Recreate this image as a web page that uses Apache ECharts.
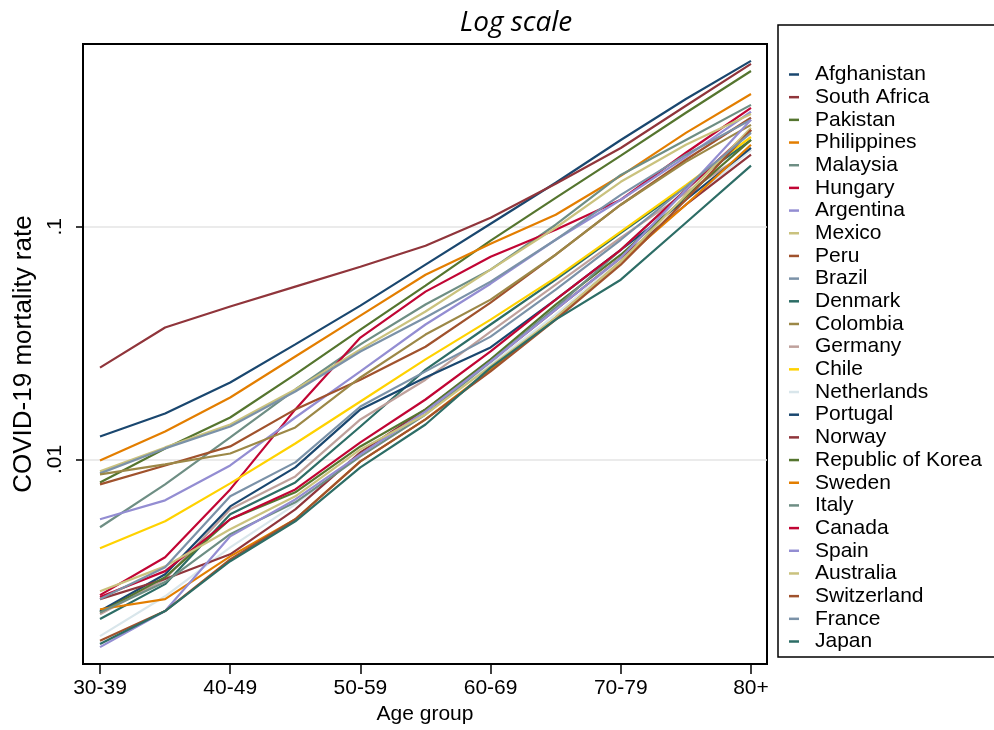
<!DOCTYPE html>
<html>
<head>
<meta charset="utf-8">
<script src="https://cdn.jsdelivr.net/npm/echarts@6/dist/echarts.min.js"></script>
<style>
  html, body { margin: 0; padding: 0; background: #fff; }
  #chart { width: 994px; height: 730px; }
</style>
</head>
<body>
<div id="chart"></div>
<script>
// Age groups on the x axis; each line also has a point halfway between groups
const ageGroups = ['30-39', '40-49', '50-59', '60-69', '70-79', '80+'];
const ageTicks = [0, 1, 2, 3, 4, 5];
const agePoints = [0, 0.5, 1, 1.5, 2, 2.5, 3, 3.5, 4, 4.5, 5];

// Y axis tick values and their labels
const rateTicks = [0.01, 0.1];
const rateTickLabels = ['.01', '.1'];

// COVID-19 mortality rate by age point, one array per country
const afghanistan = [0.01255, 0.01575, 0.0214, 0.0312, 0.0458, 0.0687, 0.103, 0.1545, 0.236, 0.354, 0.516];
const southAfrica = [0.0248, 0.0369, 0.0454, 0.0553, 0.0673, 0.0829, 0.1093, 0.153, 0.218, 0.331, 0.501];
const pakistan = [0.00796, 0.01115, 0.01514, 0.0232, 0.0361, 0.0558, 0.0871, 0.133, 0.202, 0.309, 0.467];
const philippines = [0.0099, 0.01319, 0.01845, 0.0277, 0.0415, 0.0622, 0.0845, 0.1126, 0.1655, 0.253, 0.372];
const malaysia = [0.00511, 0.00781, 0.01243, 0.01997, 0.0312, 0.0463, 0.0654, 0.102, 0.167, 0.236, 0.334];
const hungary = [0.00261, 0.0038, 0.00743, 0.0164, 0.0334, 0.0526, 0.0743, 0.0971, 0.1306, 0.208, 0.324];
const argentina = [0.00553, 0.00667, 0.00942, 0.01514, 0.0239, 0.038, 0.0569, 0.0879, 0.1306, 0.1997, 0.312];
const mexico = [0.00888, 0.01126, 0.01413, 0.01997, 0.0297, 0.0432, 0.0654, 0.099, 0.156, 0.225, 0.305];
const peru = [0.00781, 0.00942, 0.01137, 0.0164, 0.022, 0.0305, 0.0472, 0.0758, 0.1243, 0.194, 0.294];
const brazil = [0.00871, 0.01115, 0.01385, 0.01958, 0.0291, 0.0407, 0.0581, 0.0879, 0.137, 0.204, 0.288];
const denmark = [0.00206, 0.00291, 0.00581, 0.00796, 0.01385, 0.0243, 0.038, 0.0592, 0.0942, 0.1485, 0.236];
const colombia = [0.00862, 0.00952, 0.0106, 0.01372, 0.0225, 0.0344, 0.0486, 0.0758, 0.1243, 0.19, 0.274];
const germany = [0.00216, 0.00306, 0.0061, 0.00845, 0.01485, 0.022, 0.0354, 0.0564, 0.0897, 0.14, 0.214];
const chile = [0.00415, 0.00542, 0.00789, 0.01171, 0.01774, 0.0269, 0.0399, 0.0604, 0.0952, 0.151, 0.243];
const netherlands = [0.00174, 0.00258, 0.00419, 0.00641, 0.01051, 0.0156, 0.0256, 0.0419, 0.0722, 0.1243, 0.214];
const portugal = [0.00223, 0.00321, 0.00628, 0.00924, 0.0164, 0.0225, 0.0303, 0.0486, 0.0796, 0.1306, 0.218];
const norway = [0.00251, 0.00306, 0.00391, 0.0061, 0.01072, 0.0164, 0.0263, 0.044, 0.0736, 0.1243, 0.204];
const korea = [0.0022, 0.00312, 0.00553, 0.00722, 0.01137, 0.0164, 0.0269, 0.0463, 0.0758, 0.1346, 0.236];
const sweden = [0.00227, 0.00251, 0.00383, 0.00553, 0.0098, 0.01485, 0.0243, 0.0407, 0.0708, 0.1243, 0.225];
const italy = [0.0022, 0.00297, 0.00477, 0.00654, 0.0103, 0.0156, 0.0263, 0.0449, 0.0796, 0.144, 0.258];
const canada = [0.00256, 0.00331, 0.00553, 0.00743, 0.01183, 0.01809, 0.0291, 0.0486, 0.0796, 0.144, 0.261];
const spain = [0.00156, 0.00223, 0.00467, 0.00673, 0.01051, 0.01607, 0.0263, 0.044, 0.0736, 0.144, 0.288];
const australia = [0.00271, 0.00347, 0.00501, 0.00694, 0.01104, 0.0156, 0.0251, 0.0407, 0.0708, 0.137, 0.266];
const switzerland = [0.00166, 0.00223, 0.00372, 0.00553, 0.0098, 0.01485, 0.0239, 0.0399, 0.0687, 0.1306, 0.261];
const france = [0.00251, 0.00344, 0.00694, 0.00971, 0.01688, 0.0239, 0.0337, 0.0537, 0.0879, 0.1485, 0.253];
const japan = [0.00161, 0.00223, 0.00365, 0.00542, 0.00924, 0.01413, 0.0248, 0.0399, 0.0592, 0.104, 0.183];

const countryNames = ['Afghanistan', 'South Africa', 'Pakistan', 'Philippines', 'Malaysia', 'Hungary',
  'Argentina', 'Mexico', 'Peru', 'Brazil', 'Denmark', 'Colombia', 'Germany', 'Chile', 'Netherlands',
  'Portugal', 'Norway', 'Republic of Korea', 'Sweden', 'Italy', 'Canada', 'Spain', 'Australia',
  'Switzerland', 'France', 'Japan'];
const countryRates = [afghanistan, southAfrica, pakistan, philippines, malaysia, hungary,
  argentina, mexico, peru, brazil, denmark, colombia, germany, chile, netherlands,
  portugal, norway, korea, sweden, italy, canada, spain, australia,
  switzerland, france, japan];

// Stata s2color-style cycle (15 colours, then repeats)
const palette = ['#1a476f', '#90353b', '#55752f', '#e37e00', '#6e8e84', '#c10534', '#938dd2',
  '#cac27e', '#a0522d', '#7b92a8', '#2d6d66', '#9c8847', '#bfa19c', '#ffd200', '#d9e6eb'];

const font = '"Liberation Sans", Arial, sans-serif';

const series = countryNames.map((name, k) => ({
  name: name,
  type: 'line',
  symbol: 'none',
  smooth: false,
  color: palette[k % palette.length],
  lineStyle: { width: 2.2 },
  emphasis: { disabled: true },
  data: agePoints.map((x, i) => [x, countryRates[k][i]])
}));

const chart = echarts.init(document.getElementById('chart'), null, { renderer: 'canvas' });
chart.setOption({
  animation: false,
  backgroundColor: '#fff',
  title: {
    text: 'Log scale',
    left: 511,
    top: 4,
    textAlign: 'center',
    textStyle: { fontFamily: '"Open Sans", sans-serif', fontStyle: 'italic', fontWeight: 'normal', fontSize: 28, color: '#000' }
  },
  grid: {
    left: 83, right: 227, top: 44, bottom: 65,
    show: true, borderColor: '#000', borderWidth: 2, backgroundColor: '#fff'
  },
  legend: {
    orient: 'vertical',
    left: 778,
    top: 25,
    padding: [39, 40, 5, 11],
    borderColor: '#000',
    borderWidth: 1.5,
    icon: 'rect',
    itemWidth: 10,
    itemHeight: 2.5,
    itemGap: 1.68,
    selectedMode: false,
    textStyle: { fontFamily: font, fontSize: 21, lineHeight: 21, color: '#000', padding: [0, 0, 0, 11] },
    data: countryNames
  },
  xAxis: {
    type: 'value',
    min: -0.1306,
    max: 5.1229,
    name: 'Age group',
    nameLocation: 'middle',
    nameGap: 38,
    nameTextStyle: { fontFamily: font, fontSize: 21, color: '#000' },
    axisLine: { show: true, onZero: false, lineStyle: { color: '#000', width: 2 } },
    axisTick: { show: true, customValues: ageTicks, length: 10, lineStyle: { color: '#000', width: 1.5 } },
    axisLabel: {
      customValues: ageTicks,
      margin: 14,
      fontFamily: font, fontSize: 21, color: '#000',
      formatter: v => ageGroups[Math.round(v)]
    },
    splitLine: { show: false }
  },
  yAxis: {
    type: 'log',
    logBase: 10,
    min: 0.001319,
    max: 0.610,
    name: 'COVID-19 mortality rate',
    nameLocation: 'middle',
    nameGap: 42,
    nameTextStyle: { fontFamily: font, fontSize: 26, color: '#000' },
    axisLine: { show: true, onZero: false, lineStyle: { color: '#000', width: 2 } },
    axisTick: { show: true, customValues: rateTicks, length: 7, lineStyle: { color: '#000', width: 1.5 } },
    axisLabel: {
      customValues: rateTicks,
      rotate: 90,
      margin: 17,
      fontFamily: font, fontSize: 21, color: '#000',
      formatter: v => rateTickLabels[rateTicks.findIndex(t => Math.abs(Math.log10(t) - Math.log10(v)) < 1e-6)]
    },
    splitLine: { show: true, lineStyle: { color: '#e4e4e4', width: 1.5 } }
  },
  series: series
});
</script>
</body>
</html>
